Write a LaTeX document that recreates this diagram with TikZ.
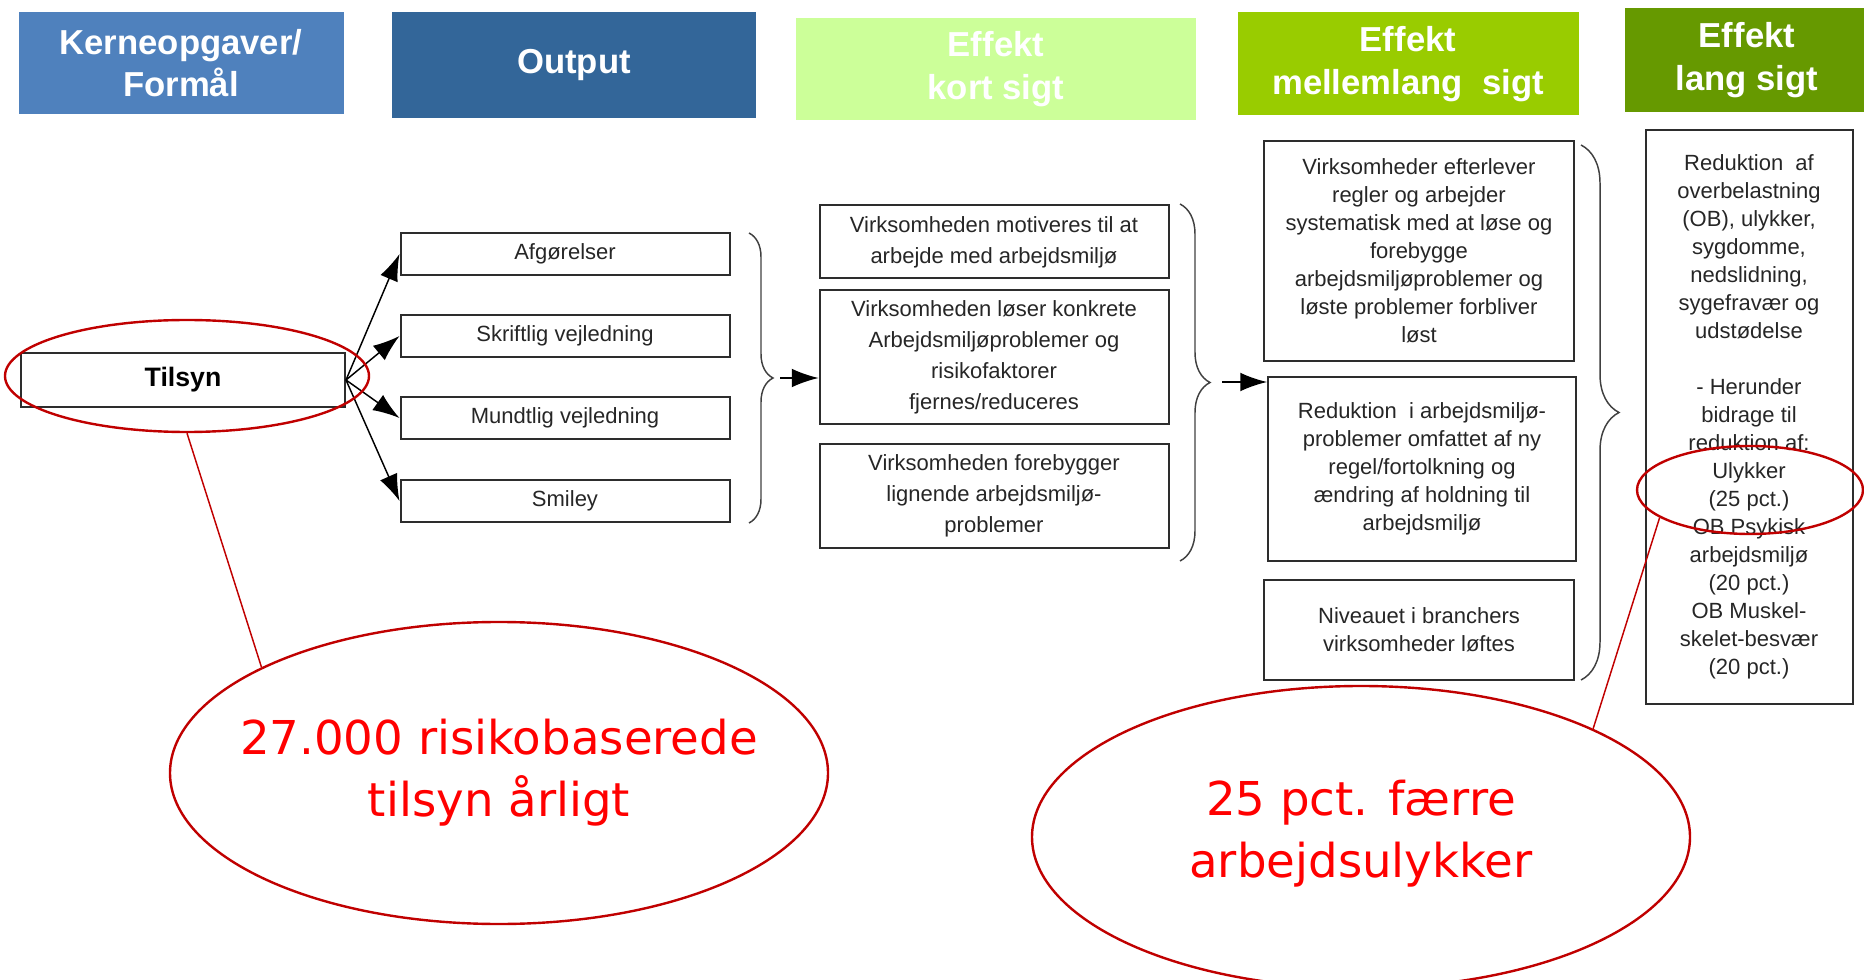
\documentclass[tikz,border=0pt]{standalone}
\usepackage{fontspec}
\setmainfont{Liberation Sans}
\newfontfamily\notefont{DejaVu Sans}
\usetikzlibrary{arrows.meta, positioning, shapes.geometric, decorations.pathreplacing}

\definecolor{kerneblue}{RGB}{79,129,189}
\definecolor{outputblue}{RGB}{51,102,153}
\definecolor{kortgreen}{RGB}{204,255,153}
\definecolor{mellemgreen}{RGB}{153,204,0}
\definecolor{langgreen}{RGB}{102,153,0}
\definecolor{ringred}{RGB}{192,0,0}
\definecolor{notered}{RGB}{255,0,0}
\definecolor{boxline}{RGB}{45,45,45}

\tikzset{
  header/.style={fill=#1, text=white, align=center, inner sep=0pt,
    font=\fontsize{26}{32}\selectfont\bfseries},
  outbox/.style={draw=boxline, line width=1.5pt, align=center, inner sep=0pt,
    minimum width=246.75pt, minimum height=31.5pt, text=black!85,
    font=\fontsize{16.5}{20}\selectfont},
  kortbox/.style={draw=boxline, line width=1.5pt, align=center, inner sep=0pt,
    minimum width=261.75pt, text=black!85, font=\fontsize{16.5}{23.25}\selectfont},
  mellembox/.style={draw=boxline, line width=1.5pt, align=center, inner sep=0pt,
    text=black!85, font=\fontsize{16.5}{21}\selectfont},
  ring/.style={ellipse, draw=ringred, line width=1.8pt, inner sep=0pt},
  note/.style={ellipse, draw=ringred, line width=1.8pt, fill=white, inner sep=0pt,
    minimum width=493.5pt, minimum height=226.5pt},
  notetext/.style={align=center, text=notered, inner sep=0pt,
    font=\notefont\fontsize{35}{46.5}\selectfont},
  arr/.style={-{Latex[length=20pt,width=14pt]}, line width=1.1pt, black},
  bracket/.style={decorate, decoration={brace, amplitude=#1}, draw=black!75, line width=1.1pt},
  pointer/.style={draw=ringred, line width=1.1pt}
}

\begin{document}
\begin{tikzpicture}[x=0.75pt,y=0.75pt,yscale=-1,xscale=1]
\useasboundingbox (0,0) rectangle (1864,980);

%Headers
\node[header=kerneblue, minimum width=243.75pt, minimum height=76.5pt] (hKerne) at (181,63) {Kerneopgaver/\\Formål};
\node[header=outputblue, minimum width=273pt, minimum height=79.5pt] (hOutput) at (574,65) {Output};
\node[header=kortgreen, minimum width=300pt, minimum height=76.5pt] (hKort) at (996,69) {Effekt\\kort sigt};
\node[header=mellemgreen, minimum width=255.75pt, minimum height=77.25pt] (hMellem) at (1408,64) {Effekt\\mellemlang\ \ sigt};
\node[header=langgreen, minimum width=183.75pt, minimum height=78pt] (hLang) at (1747,60) {Effekt\\lang sigt};

%Kerneopgave
\node[draw=boxline, line width=1.5pt, minimum width=243pt, minimum height=40.5pt, inner sep=0pt,
  font=\fontsize{20}{24}\selectfont\bfseries] (tilsyn) at (183,380) {Tilsyn};

%Output
\node[outbox] (afg) at (565,254) {Afgørelser};
\node[outbox] (skrift) at (565,336) {Skriftlig vejledning};
\node[outbox] (mundt) at (565,418) {Mundtlig vejledning};
\node[outbox] (smiley) at (565,501) {Smiley};

\foreach \out in {afg,skrift,mundt,smiley}
  \draw[arr] (tilsyn.east) -- (\out.west);

%Effekt kort sigt
\node[kortbox, minimum height=54.75pt] (kort1) at (994,242) {Virksomheden motiveres til at\\arbejde med arbejdsmiljø};
\node[kortbox, minimum height=100.5pt] (kort2) at (994,357) {Virksomheden løser konkrete\\Arbejdsmiljøproblemer og\\risikofaktorer\\fjernes/reduceres};
\node[kortbox, minimum height=77.25pt] (kort3) at (994,496) {Virksomheden forebygger\\lignende arbejdsmiljø-\\problemer};

%Effekt mellemlang sigt
\node[mellembox, minimum width=232.5pt, minimum height=165pt] (mel1) at (1419,251) {Virksomheder efterlever\\regler og arbejder\\systematisk med at løse og\\forebygge\\arbejdsmiljøproblemer og\\løste problemer forbliver\\løst};
\node[mellembox, minimum width=231pt, minimum height=138pt] (mel2) at (1422,469) {Reduktion\ \ i arbejdsmiljø-\\problemer omfattet af ny\\regel/fortolkning og\\ændring af holdning til\\arbejdsmiljø};
\node[mellembox, minimum width=232.5pt, minimum height=75pt] (mel3) at (1419,630) {Niveauet i branchers\\virksomheder løftes};

%Effekt lang sigt
\node[mellembox, minimum width=155.25pt, minimum height=429.75pt] (lang) at (1749,417) {Reduktion\ \ af\\overbelastning\\(OB), ulykker,\\sygdomme,\\nedslidning,\\sygefravær og\\udstødelse\\[21pt]- Herunder\\bidrage til\\reduktion af:\\Ulykker\\(25 pct.)\\OB Psykisk\\arbejdsmiljø\\(20 pct.)\\OB Muskel-\\skelet-besvær\\(20 pct.)};

%Braces
\draw[bracket=18pt] (749,233) -- (749,523);
\draw[bracket=22.5pt] (1180,204) -- (1180,561);
\draw[bracket=28.5pt] (1581,145) -- (1581,680);

\coordinate (b1tip) at (780,378);
\coordinate (b2tip) at (1222,382);
\draw[arr] (b1tip) -- (b1tip -| kort2.west);
\draw[arr] (b2tip) -- (b2tip -| mel2.west);

%Red marks
\node[ring, minimum width=273pt, minimum height=84pt] (ringTilsyn) at (187,376) {};
\node[ring, minimum width=169.5pt, minimum height=66pt] (ringUlykker) at (1750,490) {};
\node[note] (noteTilsyn) at (499,773) {};
\node[notetext] (textTilsyn) at (noteTilsyn) {27.000 risikobaserede\\tilsyn årligt};
\node[note] (noteUlykker) at (1361,837) {};
\node[notetext] (textUlykker) at (1361,834) {25 pct. færre\\arbejdsulykker};
\draw[pointer] (ringTilsyn.south) -- (noteTilsyn.156);
\draw[pointer] (ringUlykker.197) -- (noteUlykker.25);

\end{tikzpicture}
\end{document}
